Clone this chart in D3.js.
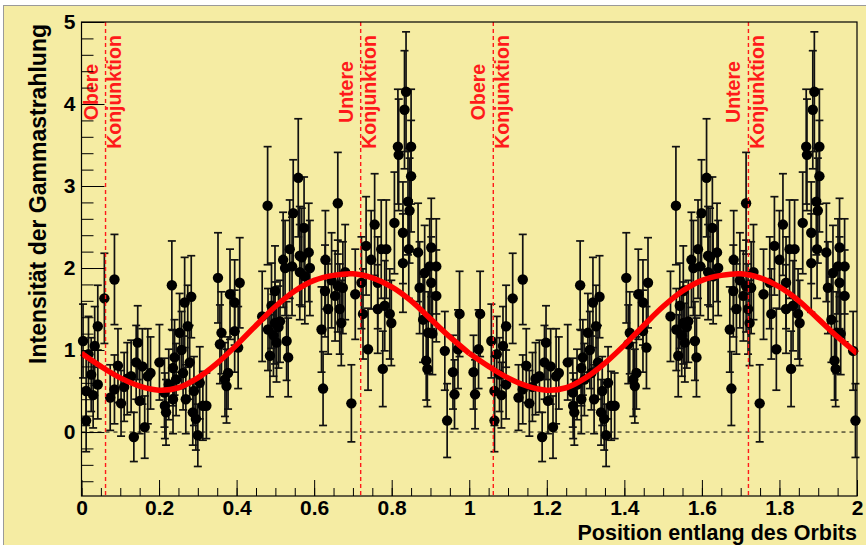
<!DOCTYPE html>
<meta charset="utf-8">
<script src="https://d3js.org/d3.v7.min.js"></script>
<style>
  body { margin: 0; background: #fff; }
  text { font-family: "Liberation Sans", Arial, Helvetica, sans-serif; font-weight: bold; }
</style>
<body>
<div id="chart"></div>
<script>

// folded light curve, one orbit (phase, intensity, error)
var phase = [0.004,0.012,0.012,0.018,0.025,0.030,0.034,0.042,0.042,0.059,0.074,0.085,0.085,0.094,0.102,0.110,0.118,0.128,0.135,0.141,0.145,0.150,0.157,0.163,0.171,0.178,0.201,0.214,0.215,0.218,0.225,0.233,0.236,0.236,0.240,0.244,0.253,0.258,0.262,0.266,0.269,0.274,0.279,0.283,0.287,0.290,0.295,0.300,0.305,0.313,
  0.322,0.352,0.357,0.361,0.370,0.374,0.378,0.383,0.395,0.395,0.404,0.408,0.466,0.480,0.481,0.486,0.490,0.495,0.499,0.499,0.503,0.508,0.512,0.520,0.525,0.529,0.533,0.537,0.543,0.546,0.559,0.563,0.563,0.568,0.574,0.576,0.586,0.589,
  0.619,0.623,0.628,0.629,0.636,0.645,0.654,0.661,0.661,0.666,0.670,0.674,0.680,0.696,0.706,0.722,0.726,0.734,0.739,0.747,0.756,0.764,0.764,0.773,0.777,0.782,0.786,0.795,0.799,0.807,0.816,0.818,0.829,0.829,0.833,0.837,0.842,0.844,0.846,0.850,0.850,
  0.868,0.872,0.881,0.885,0.889,0.892,0.894,0.898,0.902,0.902,0.905,0.915,0.915,0.937,0.943,0.958,0.962,0.971,0.975];
var intensity = [1.11,0.50,0.14,0.95,0.70,0.45,1.05,1.29,0.58,1.63,0.42,1.86,0.52,0.81,0.35,0.55,0.65,0.68,-0.06,0.85,1.09,0.38,0.80,0.06,0.68,0.72,0.85,0.48,0.32,0.24,0.58,1.79,0.78,0.40,0.91,0.64,1.21,1.00,0.72,1.58,0.40,1.29,0.85,1.65,0.24,0.50,0.16,-0.04,0.60,0.32,
  0.32,1.88,1.07,1.21,0.64,0.56,0.72,1.68,1.58,1.23,1.03,1.82,1.41,2.76,1.25,0.93,1.54,1.18,1.72,1.33,1.09,1.28,1.35,2.10,2.00,1.11,0.91,2.23,2.02,2.67,3.10,1.95,2.15,2.13,2.49,1.90,2.19,2.00,
  1.25,0.53,1.72,2.10,1.50,1.85,1.66,2.79,1.78,1.50,1.33,1.76,1.95,0.35,1.68,1.82,1.44,2.27,1.01,2.10,2.53,1.50,1.82,2.23,0.77,1.54,2.23,1.44,1.33,2.55,3.48,3.38,2.43,2.06,3.93,4.15,2.81,2.23,2.70,3.48,3.12,
  2.19,1.76,1.37,1.94,0.87,0.77,1.21,2.02,2.25,1.82,1.20,2.02,1.66,0.99,0.14,0.73,0.46,1.01,1.44];
var error = [0.45,0.42,0.38,0.46,0.45,0.40,0.48,0.50,0.42,0.55,0.40,0.55,0.42,0.45,0.40,0.42,0.44,0.44,0.30,0.45,0.45,0.40,0.46,0.38,0.58,0.44,0.46,0.42,0.40,0.40,0.43,0.54,0.46,0.42,0.46,0.44,0.48,0.47,0.45,0.55,0.42,0.50,0.45,0.50,0.40,0.42,0.38,0.38,0.44,0.42,
  0.40,0.55,0.48,0.50,0.45,0.45,0.44,0.55,0.52,0.50,0.50,0.55,0.55,0.72,0.50,0.50,0.52,0.50,0.55,0.50,0.48,0.50,0.50,0.58,0.58,0.48,0.48,0.60,0.60,0.65,0.72,0.58,0.60,0.60,0.62,0.58,0.60,0.58,
  0.52,0.45,0.56,0.60,0.55,0.58,0.55,0.62,0.56,0.55,0.52,0.56,0.58,0.47,0.55,0.56,0.55,0.60,0.50,0.60,0.62,0.54,0.56,0.60,0.46,0.55,0.60,0.55,0.52,0.62,0.70,0.68,0.62,0.60,0.72,0.73,0.65,0.60,0.64,0.70,0.68,
  0.60,0.56,0.52,0.58,0.48,0.46,0.50,0.58,0.60,0.56,0.50,0.58,0.56,0.48,0.45,0.45,0.42,0.48,0.52];

// the second orbit is shown shifted
var secondOffset = 1.053;

// fitted modulation
var fitPhase = [0,0.05,0.1,0.15,0.2,0.25,0.3,0.35,0.4,0.45,0.5,0.55,0.6,0.65,0.7,0.75,0.8,0.85,0.9,0.95,1.0];
var fitValue = [0.96,0.80,0.66,0.56,0.51,0.54,0.66,0.84,1.06,1.30,1.53,1.72,1.85,1.91,1.93,1.88,1.77,1.60,1.38,1.16,0.96];

// conjunction markers
var conjPhase = [0.062, 0.72, 1.062, 1.72];
var conjTop = ["Obere", "Untere", "Obere", "Untere"];
var conjBottom = ["Konjunktion", "Konjunktion", "Konjunktion", "Konjunktion"];

var xMajor = [0,0.2,0.4,0.6,0.8,1,1.2,1.4,1.6,1.8,2];
var yMajor = [0,1,2,3,4,5];

var W = 866, H = 545;
var frame = {left: 81.5, right: 857, top: 22, bottom: 496};

var svg = d3.select("#chart").append("svg")
    .attr("width", W)
    .attr("height", H);

svg.append("rect")
    .attr("x", 3.5).attr("y", 5.5)
    .attr("width", W).attr("height", H)
    .attr("fill", "#f5eca3")
    .attr("stroke", "#9a9a9a");

var x = d3.scaleLinear().domain([0, 2]).range([frame.left, frame.right]);
var y = d3.scaleLinear().domain([-0.78, 5]).range([frame.bottom, frame.top]);

// points for both orbits
var pts = [];
phase.forEach(function(p, i) {
  pts.push({x: p, v: intensity[i], e: error[i]});
  var q = p + secondOffset;
  if (q >= 2) q = q - 1;
  pts.push({x: q, v: intensity[i], e: error[i]});
});

// zero line
svg.append("line")
    .attr("x1", frame.left).attr("x2", frame.right)
    .attr("y1", y(0)).attr("y2", y(0))
    .attr("stroke", "#000")
    .attr("stroke-width", 1)
    .attr("stroke-dasharray", "4,4");

var g = svg.append("g");
g.selectAll(".bar")
  .data(pts).enter().append("line")
    .attr("x1", function(d) { return x(d.x); })
    .attr("x2", function(d) { return x(d.x); })
    .attr("y1", function(d) { return y(d.v + d.e); })
    .attr("y2", function(d) { return y(d.v - d.e); })
    .attr("stroke", "#111")
    .attr("stroke-width", 1.7);
[1, -1].forEach(function(s) {
  g.selectAll(".cap" + s)
    .data(pts).enter().append("line")
      .attr("x1", function(d) { return x(d.x) - 4; })
      .attr("x2", function(d) { return x(d.x) + 4; })
      .attr("y1", function(d) { return y(d.v + s * d.e); })
      .attr("y2", function(d) { return y(d.v + s * d.e); })
      .attr("stroke", "#111")
      .attr("stroke-width", 1.7);
});
g.selectAll("circle")
  .data(pts).enter().append("circle")
    .attr("cx", function(d) { return x(d.x); })
    .attr("cy", function(d) { return y(d.v); })
    .attr("r", 5.2)
    .attr("fill", "#000");

// conjunction lines + labels
conjPhase.forEach(function(c, i) {
  svg.append("line")
      .attr("x1", x(c)).attr("x2", x(c))
      .attr("y1", frame.top).attr("y2", frame.bottom)
      .attr("stroke", "#ff1a1a")
      .attr("stroke-width", 1.4)
      .attr("stroke-dasharray", "4,3");
  svg.append("text")
      .attr("transform", "translate(" + (x(c) - 8) + ",92) rotate(-90)")
      .attr("text-anchor", "middle")
      .style("font-size", "19.5px")
      .style("fill", "#ff1a1a")
      .text(conjTop[i]);
  svg.append("text")
      .attr("transform", "translate(" + (x(c) + 15.5) + ",92) rotate(-90)")
      .attr("text-anchor", "middle")
      .style("font-size", "19.5px")
      .style("fill", "#ff1a1a")
      .text(conjBottom[i]);
});

// fit curve, same shape on both orbits
var line = d3.line()
    .x(function(d) { return x(d[0]); })
    .y(function(d) { return y(d[1]); })
    .curve(d3.curveCatmullRom);
[0, 1].forEach(function(k) {
  svg.append("path")
      .datum(fitPhase.map(function(p, i) { return [p + k, fitValue[i]]; }))
      .attr("d", line)
      .attr("fill", "none")
      .attr("stroke", "#ff0000")
      .attr("stroke-width", 5.5);
});

// axes
var fmt = d3.format("~g");
svg.append("g")
    .attr("transform", "translate(0," + frame.bottom + ")")
    .call(d3.axisBottom(x).tickValues(d3.range(0, 2.001, 0.05)).tickSize(-8).tickFormat(""));
svg.append("g")
    .attr("transform", "translate(0," + frame.bottom + ")")
    .call(d3.axisBottom(x).tickValues(xMajor).tickSize(-16).tickPadding(4).tickFormat(fmt));
svg.append("g")
    .attr("transform", "translate(" + frame.left + ",0)")
    .call(d3.axisLeft(y).tickValues(d3.range(-0.6, 5.001, 0.2)).tickSize(-12).tickFormat(""));
svg.append("g")
    .attr("transform", "translate(" + frame.left + ",0)")
    .call(d3.axisLeft(y).tickValues(yMajor).tickSize(-23).tickPadding(6).tickFormat(fmt));

svg.selectAll(".domain").remove();
svg.selectAll(".tick line").attr("stroke", "#000").attr("stroke-width", 1);
svg.selectAll(".tick text")
    .style("font-family", "'Liberation Sans', Arial, sans-serif")
    .style("font-weight", "bold")
    .style("font-size", "21px")
    .attr("fill", "#000");

svg.append("rect")
    .attr("x", frame.left).attr("y", frame.top)
    .attr("width", frame.right - frame.left)
    .attr("height", frame.bottom - frame.top)
    .attr("fill", "none")
    .attr("stroke", "#000")
    .attr("stroke-width", 1.2);

svg.append("text")
    .attr("x", frame.right).attr("y", 540)
    .attr("text-anchor", "end")
    .style("font-size", "21.5px")
    .text("Position entlang des Orbits");

svg.append("text")
    .attr("transform", "translate(46," + (frame.top + 2) + ") rotate(-90)")
    .attr("text-anchor", "end")
    .style("font-size", "23px")
    .text("Intensität der Gammastrahlung");

</script>
</body>
